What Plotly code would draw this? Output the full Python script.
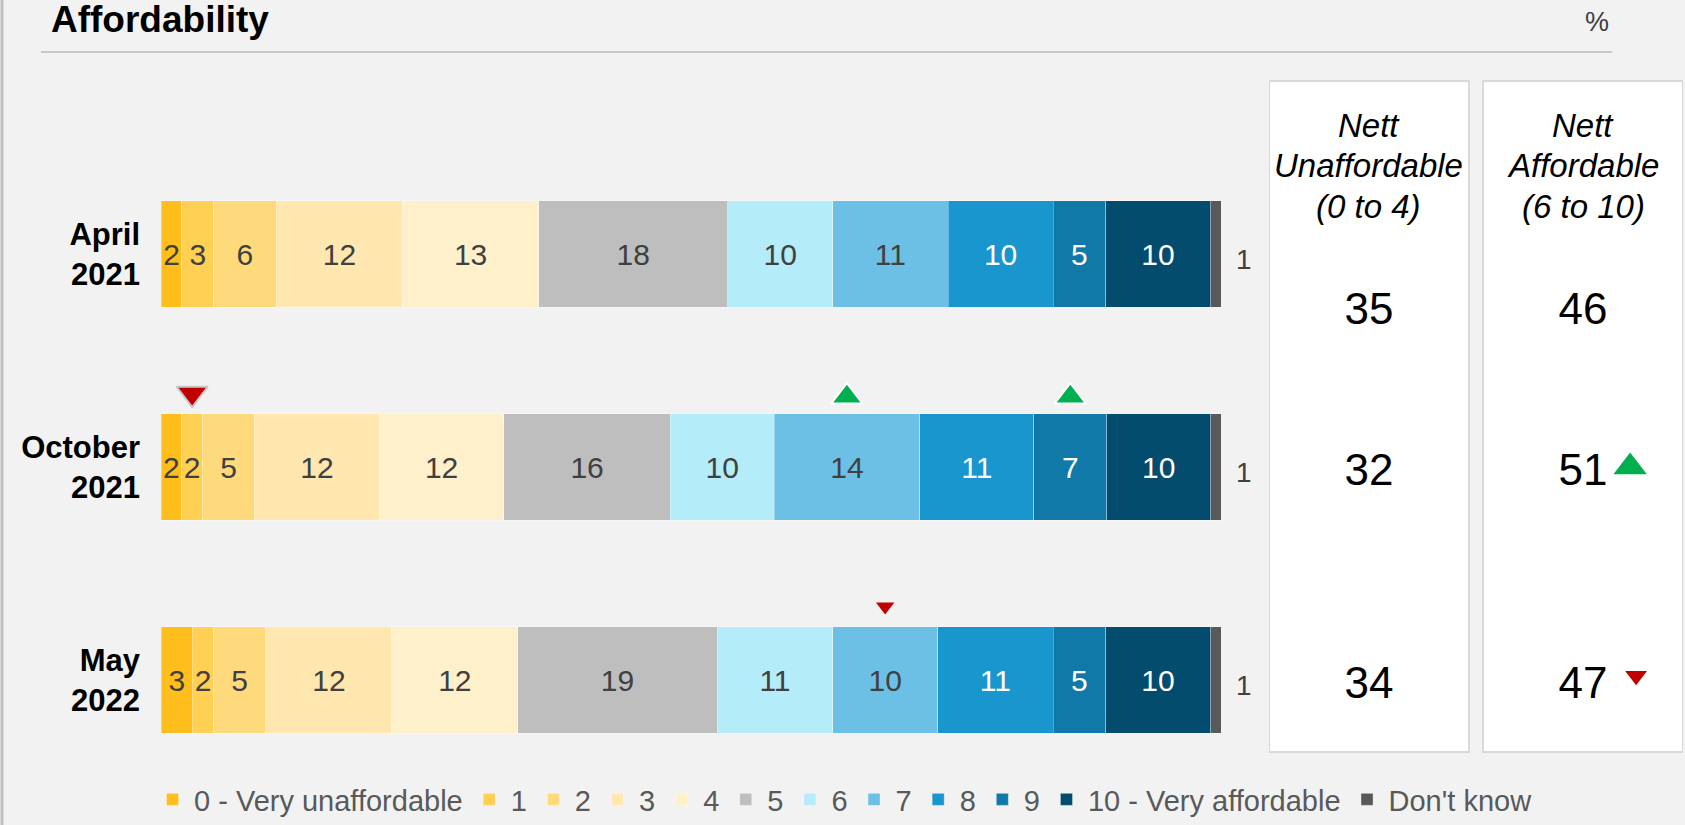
import plotly.graph_objects as go

# ---------------- data ----------------
rows = ["April<br>2021", "October<br>2021", "May<br>2022"]
score_names = ["0 - Very unaffordable", "1", "2", "3", "4", "5", "6", "7", "8", "9",
               "10 - Very affordable", "Don't know"]
score_0 = [2, 2, 3]
score_1 = [3, 2, 2]
score_2 = [6, 5, 5]
score_3 = [12, 12, 12]
score_4 = [13, 12, 12]
score_5 = [18, 16, 19]
score_6 = [10, 10, 11]
score_7 = [11, 14, 10]
score_8 = [10, 11, 11]
score_9 = [5, 7, 5]
score_10 = [10, 10, 10]
dont_know = [1, 1, 1]
nett_unaffordable = [35, 32, 34]
nett_affordable = [46, 51, 47]
# significant change vs previous wave: 1 = up, -1 = down, 0 = none
sig_score_1 = [0, -1, 0]
sig_score_7 = [0, 1, -1]
sig_score_9 = [0, 1, 0]
sig_nett_affordable = [0, 1, -1]

# ---------------- style ----------------
W, H = 1685, 825
FONT = "Liberation Sans, Arial, sans-serif"
colors = ["#FFBE1C", "#FFD054", "#FFDA7D", "#FFE7AF", "#FFF0CC", "#BEBEBE",
          "#B4ECF9", "#6DC0E5", "#1A96CE", "#1079A8", "#044C6D", "#595959"]
text_colors = ["#404040"] * 8 + ["#FFFFFF"] * 3 + ["#404040"]
GREEN, RED = "#00B050", "#C00000"

def px(x):
    return x / W

def py(y):
    return 1 - y / H

series = [score_0, score_1, score_2, score_3, score_4, score_5, score_6, score_7,
          score_8, score_9, score_10, dont_know]
n = len(rows)
ypos = list(range(n))
totals = [sum(s[i] for s in series) for i in range(n)]

fig = go.Figure()
for k, (name, vals) in enumerate(zip(score_names, series)):
    is_dk = k == len(series) - 1
    fig.add_trace(go.Bar(
        y=ypos, x=vals, name=name, orientation="h", width=0.5,
        marker=dict(color=colors[k], line=dict(width=1, color="rgba(255,255,255,0.3)")),
        text=None if is_dk else vals,
        texttemplate=None if is_dk else "%{text}",
        textposition="none" if is_dk else "inside",
        insidetextanchor="middle", textangle=0, constraintext="none",
        textfont=dict(family=FONT, size=30, color=text_colors[k]),
        hoverinfo="skip",
    ))

# Don't know labels outside the bar end
for i in range(n):
    fig.add_annotation(x=100, y=i, xref="x", yref="y", text=str(dont_know[i]),
                       showarrow=False, xanchor="left", xshift=13, yshift=-5,
                       font=dict(family=FONT, size=28, color="#404040"))

# significance markers on segments
def seg_center(k, i):
    before = sum(series[j][i] for j in range(k))
    return (before + series[k][i] / 2) / totals[i] * 100

seg_flags = {1: sig_score_1, 7: sig_score_7, 9: sig_score_9}
for k, flags in seg_flags.items():
    for i, f in enumerate(flags):
        if f == 0:
            continue
        big = i == 1
        fig.add_trace(go.Scatter(
            x=[seg_center(k, i)], y=[i - (0.33 if f > 0 else 0.345)], mode="markers",
            showlegend=False, hoverinfo="skip",
            marker=dict(symbol="triangle-up" if f > 0 else "triangle-down",
                        size=27 if big else 16,
                        color=GREEN if f > 0 else RED,
                        line=dict(width=2 if big else 0,
                                  color="#FFFFFF" if f > 0 else "#C8C8C8")),
        ))

# nett columns (x2 axis: 0 = Nett Unaffordable, 1 = Nett Affordable)
nett_y = [y + (0.275 if i == 0 else 0.035) for i, y in enumerate(ypos)]
fig.add_trace(go.Scatter(x=[0] * n, y=nett_y, xaxis="x2", yaxis="y", mode="text",
                         text=[str(v) for v in nett_unaffordable], showlegend=False,
                         textfont=dict(family=FONT, size=44, color="#000000"),
                         hoverinfo="skip"))
fig.add_trace(go.Scatter(x=[1] * n, y=nett_y, xaxis="x2", yaxis="y", mode="text",
                         text=[str(v) for v in nett_affordable], showlegend=False,
                         textfont=dict(family=FONT, size=44, color="#000000"),
                         hoverinfo="skip"))
for i, f in enumerate(sig_nett_affordable):
    if f == 0:
        continue
    fig.add_trace(go.Scatter(
        x=[1.22 if f > 0 else 1.248], y=[i - (0.0 if f > 0 else 0.02)],
        xaxis="x2", yaxis="y", mode="markers", showlegend=False, hoverinfo="skip",
        marker=dict(symbol="triangle-up" if f > 0 else "triangle-down",
                    size=29 if f > 0 else 19, color=GREEN if f > 0 else RED),
    ))

box_half = 0.467
headers = [["Nett", "Unaffordable", "(0 to 4)"], ["Nett", "Affordable", "(6 to 10)"]]
header_line_y = [126, 166, 206]
shapes = []
for j in range(2):
    shapes.append(dict(type="rect", xref="x2", yref="paper", x0=j - box_half, x1=j + box_half,
                       y0=py(752), y1=py(81), fillcolor="#FFFFFF",
                       line=dict(color="#D9D9D9", width=2), layer="below"))
# title rule and left border
shapes.append(dict(type="line", xref="paper", yref="paper", x0=px(41), x1=px(1612),
                   y0=py(52), y1=py(52), line=dict(color="#C8C8C8", width=2)))
shapes.append(dict(type="line", xref="paper", yref="paper", x0=px(2), x1=px(2),
                   y0=0, y1=1, line=dict(color="#C0C0C0", width=3)))

annotations = list(fig.layout.annotations)
for j, lines in enumerate(headers):
    for line, yy in zip(lines, header_line_y):
        annotations.append(dict(x=j, y=py(yy), xref="x2", yref="paper", text=f"<i>{line}</i>",
                                showarrow=False, xanchor="center", yanchor="middle",
                                font=dict(family=FONT, size=33, color="#000000")))
annotations.append(dict(x=px(50), y=1, xref="paper", yref="paper",
                        text="<b>Affordability</b>", showarrow=False,
                        xanchor="left", yanchor="top", borderpad=0, yshift=2,
                        font=dict(family=FONT, size=37, color="#000000")))
annotations.append(dict(x=px(1597), y=py(22), xref="paper", yref="paper", text="%",
                        showarrow=False, xanchor="center", yanchor="middle",
                        font=dict(family=FONT, size=27, color="#404040")))

row_top, row_pitch = 254, 213
fig.update_layout(
    width=W, height=H,
    margin=dict(l=0, r=0, t=0, b=0, autoexpand=False),
    paper_bgcolor="#F2F2F2", plot_bgcolor="#F2F2F2",
    barmode="stack", barnorm="percent",
    font=dict(family=FONT, color="#404040"),
    xaxis=dict(domain=[px(161), px(1221)], range=[0, 100], visible=False, fixedrange=True),
    xaxis2=dict(domain=[px(1269), px(1683)], range=[-box_half, 1 + box_half], visible=False,
                anchor="y"),
    yaxis=dict(domain=[py(row_top + 2 * row_pitch + 0.376 * row_pitch),
                       py(row_top - 0.723 * row_pitch)],
               range=[2.376, -0.723], tickmode="array",
               tickvals=ypos, ticktext=[f"<b>{r}</b>" for r in rows], showgrid=False,
               zeroline=False, showline=False, ticks="", ticklabelstandoff=20,
               tickfont=dict(family=FONT, size=31, color="#000000"), automargin=False),
    showlegend=True,
    legend=dict(orientation="h", x=px(151), y=0, xanchor="left", yanchor="bottom",
                traceorder="normal", font=dict(family=FONT, size=29, color="#595959"),
                bgcolor="rgba(0,0,0,0)", itemwidth=33, itemclick=False, itemdoubleclick=False),
    shapes=shapes,
    annotations=annotations,
)

fig.write_html(
    "out.html",
    config={"displayModeBar": False, "responsive": False},
    post_script=("document.body.style.margin='0';document.body.style.padding='0';"
                 "document.body.style.background='#F2F2F2';"
                 "document.documentElement.style.background='#F2F2F2';"
                 "document.body.style.overflow='hidden';"),
)
